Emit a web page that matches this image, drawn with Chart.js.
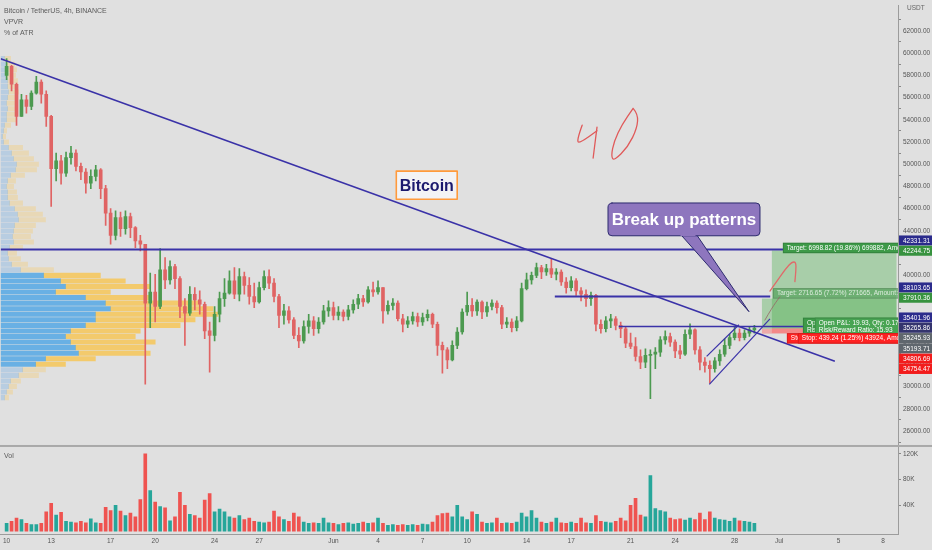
<!DOCTYPE html>
<html>
<head>
<meta charset="utf-8">
<script src="https://cdn.jsdelivr.net/npm/chart.js@4.4.1/dist/chart.umd.min.js"></script>
<style>
  html, body { margin: 0; padding: 0; background: #e0e0e0; }
  #wrap { width: 932px; height: 550px; }
</style>
</head>
<body>
<div id="wrap"><canvas id="btc" width="932" height="550"></canvas></div>
<script>
// BTC/USDT, bars every 8h, day 0 = May 10 00:00
const barStep = 1 / 3
const firstOpen = 58000
const closes = [
  58800, 57200, 54300, 55800, 55200, 56400, 57400, 56300, 54300, 49600,
  50300, 49200, 50600, 51000, 49800, 49300, 48300, 48900, 49500, 47800,
  45600, 43600, 45200, 44200, 45300, 44300, 43100, 42800, 37500, 38500,
  37200, 40500, 39600, 40800, 39700, 37200, 36600, 38300, 37800, 37400,
  35000, 34600, 36500, 37900, 38400, 39500, 38300, 39900, 39100, 38100,
  37600, 38900, 39900, 39300, 38100, 36400, 36800, 36000, 34600, 34100,
  35400, 35900, 35200, 35800, 36800, 37100, 36400, 36700, 36300, 36900,
  37400, 37900, 37600, 38700, 38500, 38900, 36800, 37300, 37500, 36100,
  35600, 35900, 36300, 35800, 36200, 36500, 35600, 33700, 33300, 32400,
  33700, 34900, 36700, 37300, 36800, 37600, 36700, 37200, 37500, 37100,
  35600, 35800, 35300, 35900, 38800, 39600, 40000, 40700, 40300, 40600,
  40100, 40300, 39400, 38900, 39500, 38600, 38300, 37900, 38200, 35600,
  35200, 35900, 36100, 35500, 35200, 33900, 33600, 32700, 32200, 32800,
  32900, 33100, 34200, 34500, 34000, 33200, 32900, 34700, 35100, 33300,
  32200, 31900, 31600, 32300, 32900, 33700, 34400, 34800, 34400, 34800,
  35100, 35265.86
]
const highs = [
  59500, 58900, 57300, 56300, 56200, 56600, 57900, 57600, 56600, 54400,
  51000, 50800, 51100, 51600, 51300, 50100, 49600, 49500, 49900, 49600,
  48100, 46000, 45800, 45700, 45800, 45600, 44400, 43600, 42800, 40200,
  40100, 42400, 41600, 41300, 41000, 39900, 37900, 39000, 38900, 38600,
  37600, 35800, 37200, 38500, 39700, 40400, 40700, 40600, 40300, 39800,
  39300, 39400, 40400, 40500, 39700, 38300, 37400, 37200, 36200, 35300,
  35900, 36500, 36300, 36200, 37300, 37700, 37600, 37200, 36900, 37300,
  37800, 38300, 38200, 39000, 39400, 39500, 38900, 37700, 37900, 37700,
  36500, 36300, 36700, 36600, 36600, 36900, 36600, 35800, 34000, 33500,
  34100, 35300, 37000, 38500, 37900, 37800, 37700, 37600, 37800, 37700,
  37300, 36200, 36100, 36300, 39300, 40200, 40300, 41100, 40900, 41000,
  41450, 40600, 40500, 39800, 39900, 39700, 38900, 38700, 38500, 38300,
  36000, 36300, 36500, 36300, 35800, 35400, 34800, 34400, 33300, 33400,
  33300, 33500, 34500, 35000, 34800, 34200, 33700, 35100, 35650, 35200,
  33600, 32600, 32300, 32600, 33300, 34300, 34700, 35400, 35200, 35100,
  35400, 35500
]
const lows = [
  57600, 56600, 53500, 54300, 54600, 54900, 56300, 55500, 53400, 46200,
  48500, 48200, 48900, 50000, 49400, 48600, 47400, 47800, 48500, 46900,
  44500, 42800, 43200, 43500, 43700, 43400, 42500, 42200, 30200, 35300,
  35800, 37000, 38800, 39200, 38800, 36200, 33700, 36400, 36900, 36500,
  34300, 31300, 34100, 35800, 37200, 38300, 37900, 37700, 38300, 37400,
  37100, 37500, 38700, 38800, 37600, 35300, 35600, 35700, 34300, 33500,
  33900, 34800, 34600, 34800, 35600, 36300, 36000, 36000, 35900, 36000,
  36600, 37000, 37200, 37500, 38100, 38300, 35700, 36500, 36900, 35900,
  34900, 35300, 35600, 35400, 35500, 35900, 35300, 32800, 31200, 31600,
  32300, 33400, 34700, 36400, 36300, 36400, 36100, 36300, 36900, 36600,
  35200, 35300, 34900, 35000, 35800, 38700, 39200, 39800, 39700, 40000,
  39800, 39600, 39100, 38400, 38600, 38200, 37700, 37200, 37300, 35000,
  34800, 34900, 35300, 35100, 34400, 33500, 33400, 32300, 31600, 31700,
  28900, 31600, 32700, 33800, 33600, 32600, 32500, 32800, 34300, 32900,
  31500, 31300, 30300, 31300, 31900, 32700, 33400, 34200, 34100, 34200,
  34500, 34800
]
// volume in thousands
const volumes = [
  12, 15, 20, 18, 12, 10, 10, 12, 30, 43,
  25, 29, 15, 14, 13, 15, 13, 19, 13, 12,
  37, 32, 40, 31, 24, 28, 22, 49, 120, 63,
  45, 38, 36, 16, 22, 60, 40, 26, 24, 20,
  48, 58, 30, 34, 30, 22, 20, 24, 18, 20,
  15, 14, 13, 14, 31, 22, 18, 15, 28, 22,
  14, 12, 13, 12, 20, 13, 12, 10, 12, 13,
  11, 12, 14, 12, 13, 20, 12, 9, 10, 9,
  10, 9, 10, 9, 11, 10, 14, 24, 27, 28,
  22, 40, 22, 18, 30, 26, 14, 12, 13, 20,
  12, 13, 12, 14, 28, 22, 32, 20, 14, 12,
  14, 20, 13, 12, 14, 12, 20, 13, 12, 24,
  15, 14, 13, 15, 20, 16, 40, 51, 25, 22,
  86, 35, 32, 30, 20, 18, 19, 17, 20, 18,
  28, 18, 30, 20, 18, 17, 15, 20, 16, 15,
  14, 12
]

// visible range volume profile (rows of 500 USDT)
const profilePrices = [
  59500, 59000, 58500, 58000, 57500, 57000, 56500, 56000, 55500, 55000,
  54500, 54000, 53500, 53000, 52500, 52000, 51500, 51000, 50500, 50000,
  49500, 49000, 48500, 48000, 47500, 47000, 46500, 46000, 45500, 45000,
  44500, 44000, 43500, 43000, 42500, 42000, 41500, 41000, 40500, 40000,
  39500, 39000, 38500, 38000, 37500, 37000, 36500, 36000, 35500, 35000,
  34500, 34000, 33500, 33000, 32500, 32000, 31500, 31000, 30500, 30000,
  29500, 29000
]
const profileUp = [
  4, 6, 7, 6, 7, 7, 8, 7, 6, 7,
  6, 6, 4, 3, 2, 3, 8, 11, 13, 16,
  15, 10, 7, 6, 7, 7, 9, 14, 17, 18,
  14, 13, 12, 13, 9, 7, 8, 11, 20, 43,
  60, 65, 55, 85, 105, 110, 95, 95, 85, 70,
  65, 70, 75, 78, 45, 35, 22, 18, 10, 8,
  6, 4
]
const profileDown = [
  6, 8, 9, 9, 10, 9, 10, 10, 9, 9,
  8, 9, 6, 3, 3, 5, 14, 17, 20, 22,
  21, 14, 8, 7, 9, 10, 13, 21, 25, 27,
  21, 19, 18, 20, 13, 9, 12, 16, 33, 57,
  65, 85, 55, 65, 95, 103, 123, 100, 95, 70,
  70, 85, 70, 72, 50, 30, 23, 20, 10, 8,
  6, 4
]
const valueAreaHigh = 40000
const valueAreaLow = 32000

const priceTicks = [26000, 28000, 30000, 32000, 34000, 36000, 38000, 40000, 42000, 44000,
  46000, 48000, 50000, 52000, 54000, 56000, 58000, 60000, 62000]
const volTicks = [40, 80, 120]
const tickDays = [0, 3, 7, 10, 14, 17, 22, 25, 28, 31, 35, 38, 42, 45, 49, 52, 56, 59]
const tickLabels = ['10', '13', '17', '20', '24', '27', 'Jun', '4', '7', '10', '14', '17', '21', '24', '28', 'Jul', '5', '8']

// drawings, anchored in (day, price)
const trendLines = [
  { from: [-0.4, 59495], to: [55.75, 32266], width: 1.6 },
  { from: [-0.4, 42331.31], to: [60, 42331.31], width: 2 },
  { from: [36.9, 38103.65], to: [51.4, 38103.65], width: 2 },
  { from: [41.2, 35401.96], to: [54.1, 35401.96], width: 1.6 },
  { from: [47.12, 32712], to: [49.29, 35554], width: 1.2 },
  { from: [47.3, 30184], to: [51.38, 36085], width: 1.2 }
]
const positions = [
  { from: 50.84, entry: 35193.71, target: 37910.36, stop: 34754.47 },
  { from: 51.51, entry: 35245.93, target: 42244.75, stop: 34806.69 }
]
const positionEnd = 59.9
const positionLabels = [
  { day: 51.58, price: 38378, lines: ['Target: 2716.65 (7.72%) 271665, Amount: 14.85'], bg: 'rgba(60,150,70,0.55)', fg: 'rgba(255,255,255,0.75)' },
  { day: 52.25, price: 42466, lines: ['Target: 6998.82 (19.86%) 699882, Amount: 15.93'], bg: '#3d9a48', fg: '#fff' },
  { day: 53.6, price: 35385, lines: ['Open P&L: 19.93, Qty: 0.171', 'Risk/Reward Ratio: 6.19'], bg: '#3d9a48', fg: '#fff' },
  { day: 54.4, price: 35385, lines: ['Open P&L: 19.93, Qty: 0.171', 'Risk/Reward Ratio: 15.93'], bg: '#48a453', fg: '#fff' },
  { day: 52.52, price: 34332, lines: ['Stop: 439.24 (1.25%) 43924, Amount: 0.171'], bg: '#ff2222', fg: '#fff' },
  { day: 53.26, price: 34332, lines: ['Stop: 439.24 (1.25%) 43924, Amount: 0.171'], bg: '#ff2222', fg: '#fff' }
]
const callout = { text: 'Break up patterns', box: [40.48, 46513, 50.71, 43562], base: [45.33, 46.4], tip: [49.97, 36734] }
const textBox = { text: 'Bitcoin', box: [26.23, 49379, 30.33, 46850] }
const brushes = [
  { color: '#e05a5a', width: 1.3, pts: [[38.74, 53509], [38.33, 51992], [38.67, 51992], [39.74, 53004]] },
  { color: '#e05a5a', width: 1.3, pts: [[39.74, 53341], [39.48, 50559]] },
  { color: '#e05a5a', width: 1.3, pts: [[42.17, 55027], [42.5, 54521], [42.44, 53257], [41.83, 51571], [40.89, 50306], [40.69, 50728], [40.89, 52076], [41.43, 53594], [42.17, 55027]] },
  { color: 'rgba(150,100,100,0.8)', width: 1, pts: [[51.04, 35975], [51.51, 37071], [52.05, 38083]] },
  { color: '#e06a6a', width: 1.3, pts: [[51.38, 38588], [51.92, 39600], [52.45, 40612], [52.86, 41202], [53.13, 41202], [53.13, 40443], [53.06, 39432]] }
]
const priceTags = [
  { price: 42331.31, bg: '#2b2b8c' },
  { price: 42244.75, bg: '#37923f' },
  { price: 38103.65, bg: '#2b2b8c' },
  { price: 37910.36, bg: '#37923f' },
  { price: 35401.96, bg: '#2b2b8c' },
  { price: 35265.86, bg: '#34346e' },
  { price: 35245.93, bg: '#5f666d' },
  { price: 35193.71, bg: '#5f666d' },
  { price: 34806.69, bg: '#f21c1c' },
  { price: 34754.47, bg: '#f21c1c' }
]

const FONT = "'Liberation Sans', Arial, sans-serif"
const upColor = '#4c9a50'
const downColor = '#e06464'
const volUp = '#26a69a'
const volDown = '#ef5350'

const opens = closes.map((c, i) => i === 0 ? firstOpen : closes[i - 1])
const isUp = i => closes[i] >= opens[i]
const inValueArea = i => profilePrices[i] <= valueAreaHigh && profilePrices[i] >= valueAreaLow

function smoothPath(ctx, pts) {
  ctx.beginPath()
  ctx.moveTo(pts[0][0], pts[0][1])
  for (let i = 1; i < pts.length - 1; i++) {
    const mx = (pts[i][0] + pts[i + 1][0]) / 2, my = (pts[i][1] + pts[i + 1][1]) / 2
    ctx.quadraticCurveTo(pts[i][0], pts[i][1], mx, my)
  }
  const last = pts[pts.length - 1]
  ctx.lineTo(last[0], last[1])
  ctx.stroke()
}

const drawings = {
  id: 'drawings',
  afterDatasetsDraw(chart) {
    const { ctx, chartArea } = chart
    const xs = chart.scales.x, ys = chart.scales.y
    const X = d => xs.getPixelForValue(d), Y = p => ys.getPixelForValue(p)
    ctx.save()
    ctx.beginPath()
    ctx.rect(chartArea.left, ys.top, chartArea.right - chartArea.left, ys.bottom - ys.top)
    ctx.clip()

    // long position zones
    positions.forEach(pos => {
      const x0 = X(pos.from), x1 = X(positionEnd)
      ctx.fillStyle = 'rgba(76,175,80,0.38)'
      ctx.fillRect(x0, Y(pos.target), x1 - x0, Y(pos.entry) - Y(pos.target))
      ctx.fillStyle = 'rgba(255,82,82,0.38)'
      ctx.fillRect(x0, Y(pos.entry), x1 - x0, Y(pos.stop) - Y(pos.entry))
    })

    // trend lines
    ctx.strokeStyle = '#3a32a8'
    trendLines.forEach(l => {
      ctx.lineWidth = l.width
      ctx.beginPath()
      ctx.moveTo(X(l.from[0]), Y(l.from[1]))
      ctx.lineTo(X(l.to[0]), Y(l.to[1]))
      ctx.stroke()
    })

    // position labels
    ctx.font = '6.5px ' + FONT
    ctx.textBaseline = 'middle'
    ctx.textAlign = 'left'
    positionLabels.forEach(lb => {
      const x = X(lb.day), yc = Y(lb.price)
      const h = lb.lines.length * 7.5 + 3
      ctx.fillStyle = lb.bg
      ctx.fillRect(x, yc - h / 2, chartArea.right - x + 5, h)
      ctx.strokeStyle = 'rgba(0,0,0,0.15)'
      ctx.lineWidth = 1
      ctx.strokeRect(x + 0.5, yc - h / 2 + 0.5, chartArea.right - x + 5, h - 1)
      ctx.fillStyle = lb.fg
      lb.lines.forEach((t, i) => ctx.fillText(t, x + 4, yc - h / 2 + 5.3 + i * 7.5))
    })

    // brush strokes
    ctx.lineCap = 'round'
    ctx.lineJoin = 'round'
    brushes.forEach(b => {
      ctx.strokeStyle = b.color
      ctx.lineWidth = b.width
      smoothPath(ctx, b.pts.map(p => [X(p[0]), Y(p[1])]))
    })

    // text box "Bitcoin"
    const tb = textBox.box
    const bx0 = X(tb[0]), by0 = Y(tb[1]), bx1 = X(tb[2]), by1 = Y(tb[3])
    ctx.fillStyle = '#f3f3f5'
    ctx.fillRect(bx0, by0, bx1 - bx0, by1 - by0)
    ctx.strokeStyle = '#ff9a3c'
    ctx.lineWidth = 1.6
    ctx.strokeRect(bx0, by0, bx1 - bx0, by1 - by0)
    ctx.fillStyle = '#1c1a6e'
    ctx.font = 'bold 16px ' + FONT
    ctx.textAlign = 'center'
    ctx.fillText(textBox.text, (bx0 + bx1) / 2, (by0 + by1) / 2 + 1)

    // callout
    const cb = callout.box
    const cx0 = X(cb[0]), cy0 = Y(cb[1]), cx1 = X(cb[2]), cy1 = Y(cb[3])
    ctx.fillStyle = '#8e76be'
    ctx.strokeStyle = '#2c2a6e'
    ctx.lineWidth = 1
    ctx.beginPath()
    ctx.moveTo(X(callout.base[0]), cy1 - 2)
    ctx.lineTo(X(callout.tip[0]), Y(callout.tip[1]))
    ctx.lineTo(X(callout.base[1]), cy1 - 2)
    ctx.closePath()
    ctx.fill()
    ctx.stroke()
    ctx.beginPath()
    ctx.roundRect(cx0, cy0, cx1 - cx0, cy1 - cy0, 4)
    ctx.fill()
    ctx.stroke()
    ctx.beginPath()
    ctx.moveTo(X(callout.base[0]) + 1, cy1 - 0.5)
    ctx.lineTo(X(callout.base[1]) - 1, cy1 - 0.5)
    ctx.strokeStyle = '#8e76be'
    ctx.lineWidth = 1.5
    ctx.stroke()
    ctx.fillStyle = '#ffffff'
    ctx.font = 'bold 17px ' + FONT
    ctx.fillText(callout.text, (cx0 + cx1) / 2, (cy0 + cy1) / 2 + 1)
    ctx.restore()
  },
  afterDraw(chart) {
    const { ctx, chartArea } = chart
    const ys = chart.scales.y
    const Y = p => ys.getPixelForValue(p)
    ctx.save()

    // pane separator
    ctx.fillStyle = '#a9a9a9'
    ctx.fillRect(0, ys.bottom - 1, chart.width, 2)

    // header texts
    ctx.fillStyle = '#5a5a5a'
    ctx.font = '7px ' + FONT
    ctx.textBaseline = 'middle'
    ctx.textAlign = 'left'
    ctx.fillText('Bitcoin / TetherUS, 4h, BINANCE', 4, 11)
    ctx.fillText('VPVR', 4, 22)
    ctx.fillText('% of ATR', 4, 33)
    ctx.fillText('Vol', 4, ys.bottom + 10)

    // USDT unit box
    ctx.fillStyle = '#e0e0e0'
    ctx.fillRect(chartArea.right + 4, 3, 27, 10)
    ctx.fillStyle = '#666'
    ctx.font = '6.5px ' + FONT
    ctx.fillText('USDT', chartArea.right + 9, 8.5)

    // price tags on the axis
    let prevRaw = null, prevY = null
    priceTags.forEach((t, i) => {
      const raw = Y(t.price)
      let y
      if (prevRaw !== null && raw - prevRaw < 12) {
        y = prevY + 10.3
      } else {
        const next = priceTags[i + 1]
        y = (next && Y(next.price) - raw < 12) ? raw - 9 : raw
      }
      prevRaw = raw
      prevY = y
      ctx.fillStyle = t.bg
      ctx.fillRect(chartArea.right + 1, y - 5, chart.width - chartArea.right - 1, 10)
      ctx.fillStyle = '#ffffff'
      ctx.font = '6.5px ' + FONT
      ctx.fillText(t.price.toFixed(2), chartArea.right + 5, y + 0.5)
    })
    ctx.restore()
  }
}

const candleWicks = closes.map((c, i) => ({ x: i * barStep, y: [lows[i], highs[i]] }))
const candleBodies = closes.map((c, i) => ({ x: i * barStep, y: [opens[i], closes[i]] }))
const volumeBars = volumes.map((v, i) => ({ x: i * barStep, y: v }))
const profileUpBars = profilePrices.map((p, i) => ({ y: p, x: [0, profileUp[i]] }))
const profileDownBars = profilePrices.map((p, i) => ({ y: p, x: [profileUp[i], profileUp[i] + profileDown[i]] }))

Chart.defaults.font.family = FONT

new Chart(document.getElementById('btc'), {
  type: 'bar',
  data: {
    datasets: [
      {
        label: 'wick', data: candleWicks, xAxisID: 'x', yAxisID: 'y', grouped: false, order: 1,
        barThickness: 1, borderWidth: 0,
        backgroundColor: ctx => isUp(ctx.dataIndex) ? upColor : downColor
      },
      {
        label: 'body', data: candleBodies, xAxisID: 'x', yAxisID: 'y', grouped: false, order: 1,
        barThickness: 3, borderWidth: 0, minBarLength: 1,
        backgroundColor: ctx => isUp(ctx.dataIndex) ? upColor : downColor
      },
      {
        label: 'Vol', data: volumeBars, xAxisID: 'x', yAxisID: 'yVol', grouped: false, order: 2,
        barThickness: 3, borderWidth: 0,
        backgroundColor: ctx => isUp(ctx.dataIndex) ? volUp : volDown
      },
      {
        label: 'VPVR up', data: profileUpBars, indexAxis: 'y', xAxisID: 'xProf', yAxisID: 'y', grouped: false, order: 3,
        barThickness: 4.4, borderWidth: 0,
        backgroundColor: ctx => inValueArea(ctx.dataIndex) ? 'rgba(66,160,230,0.75)' : 'rgba(110,170,225,0.35)'
      },
      {
        label: 'VPVR down', data: profileDownBars, indexAxis: 'y', xAxisID: 'xProf', yAxisID: 'y', grouped: false, order: 3,
        barThickness: 4.4, borderWidth: 0,
        backgroundColor: ctx => inValueArea(ctx.dataIndex) ? 'rgba(250,195,70,0.75)' : 'rgba(245,205,120,0.4)'
      }
    ]
  },
  options: {
    responsive: false,
    animation: false,
    events: [],
    layout: { padding: 0 },
    plugins: { legend: { display: false }, tooltip: { enabled: false } },
    scales: {
      x: {
        type: 'linear', position: 'bottom', min: -0.4, max: 60, offset: false,
        afterBuildTicks: s => { s.ticks = tickDays.map(v => ({ value: v })) },
        afterFit: s => { s.height = 16 },
        ticks: {
          autoSkip: false, maxRotation: 0, padding: 3, color: '#555', font: { size: 6.5 },
          callback: v => tickLabels[tickDays.indexOf(v)]
        },
        grid: { display: false, drawTicks: false, tickLength: 0, offset: false },
        border: { display: true, color: '#9c9c9c' }
      },
      xProf: { type: 'linear', display: false, min: 0, max: 900, offset: false },
      y: {
        type: 'linear', position: 'right', stack: 'pane', stackWeight: 445,
        min: 25690, max: 63204,
        afterBuildTicks: s => { s.ticks = priceTicks.map(v => ({ value: v })) },
        afterFit: s => { s.width = 34 },
        ticks: { color: '#555', font: { size: 6.5 }, padding: 2, callback: v => v.toFixed(2) },
        grid: { drawOnChartArea: false, drawTicks: true, tickLength: 3, color: '#888' },
        border: { display: true, color: '#9c9c9c' }
      },
      yVol: {
        type: 'linear', position: 'right', stack: 'pane', stackWeight: 89,
        min: -4.5, max: 132,
        afterBuildTicks: s => { s.ticks = volTicks.map(v => ({ value: v })) },
        afterFit: s => { s.width = 34 },
        ticks: { color: '#555', font: { size: 6.5 }, padding: 2, callback: v => v + 'K' },
        grid: { drawOnChartArea: false, drawTicks: true, tickLength: 3, color: '#888' },
        border: { display: true, color: '#9c9c9c' }
      }
    }
  },
  plugins: [drawings]
})
</script>
</body>
</html>
